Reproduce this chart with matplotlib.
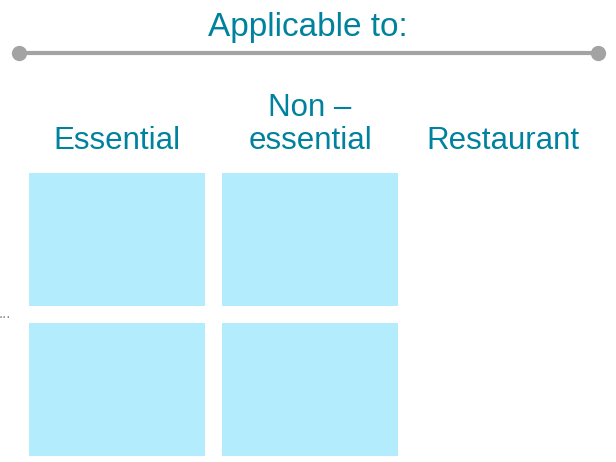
import matplotlib.pyplot as plt

# what the grid says: columns are store types, rows are the two policy items
header = "Applicable to:"
categories = ["Essential", "Non \u2013\nessential", "Restaurant"]
applies = [
    [1, 1, 0],
    [1, 1, 0],
]

teal = "#00829e"
box_color = "#b3edfd"
line_gray = "#a3a3a3"

plt.rcParams["font.family"] = ["Liberation Sans", "DejaVu Sans"]

fig = plt.figure(figsize=(6.16, 4.62), dpi=100)
ax = fig.add_axes([0, 0, 1, 1])
ax.set_xlim(0, 616)
ax.set_ylim(462, 0)
ax.axis("off")

# header and the rule with round ends
ax.text(308, 36, header, ha="center", va="baseline", color=teal, fontsize=24)
ax.plot([19, 598], [53, 53], color=line_gray, lw=3, solid_capstyle="butt")
ax.plot([19, 598], [53, 53], "o", color=line_gray, ms=11, mec="none")

# column layout
x0, pitch, w = 29, 193, 176
y0, rpitch, h = 173, 150, 133
centers = [x0 + w / 2 + i * pitch for i in range(len(categories))]

for cx, lab in zip(centers, categories):
    ax.text(cx, 149, lab, ha="center", va="baseline", color=teal,
            fontsize=22.5, linespacing=1.12)

for r, row in enumerate(applies):
    xs = [c for c, v in zip(centers, row) if v]
    ax.bar(xs, [h] * len(xs), width=w, bottom=y0 + r * rpitch,
           color=box_color, edgecolor="none")

# little ellipsis on the left edge
ax.text(-1, 318, "...", ha="left", va="baseline", color="#888888", fontsize=11)

plt.savefig("out.png", dpi=100)
plt.close()
